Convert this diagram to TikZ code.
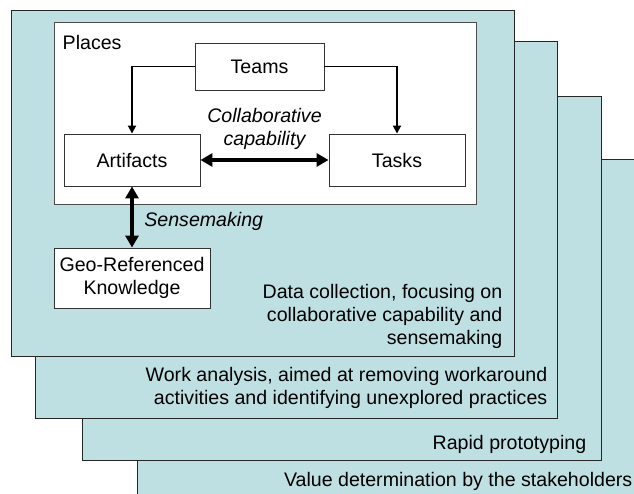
\documentclass[tikz,border=0pt]{standalone}
\usepackage{fontspec}
\setmainfont{Liberation Sans}
\usetikzlibrary{arrows.meta}
\definecolor{stageblue}{RGB}{190,224,227}
\newcommand{\figfont}{\fontsize{19.6}{22.8}\selectfont}

\begin{document}
\begin{tikzpicture}[x=1pt, y=-1pt,
    stage/.style={draw=black!85, fill=stageblue, line width=1pt},
    main box/.style={rectangle, draw=black!80, fill=white, line width=0.9pt, align=center, inner sep=0pt},
    stage text/.style={anchor=east, align=right, inner sep=0pt},
    flow/.style={-{Triangle[length=8pt,width=8pt]}, line width=1.8pt},
    link/.style={{Triangle[length=12pt,width=13pt]}-{Triangle[length=12pt,width=13pt]}, line width=4pt}]
  \tikzstyle{every node}=[font=\figfont]

  \useasboundingbox (0,0) rectangle (634,494);
  \clip (0,0) rectangle (634,494);

  % stages, back to front
  \draw[stage] (137,160) rectangle (660,520);
  \draw[stage] (82,97) rectangle (601,460);
  \draw[stage] (35,42) rectangle (557,418);
  \draw[stage] (11,11) rectangle (514,356);
  \draw[fill=white, draw=black!70, line width=0.9pt] (54,22) rectangle (476,204);

  \node[anchor=west, inner sep=0pt] (places) at (62.5,42) {Places};
  \node[main box, minimum width=129pt, minimum height=47pt] (teams) at (259.5,66.5) {Teams};
  \node[main box, minimum width=136pt, minimum height=52pt] (artifacts) at (132,160) {Artifacts};
  \node[main box, minimum width=136pt, minimum height=52pt] (tasks) at (397,160) {Tasks};
  \node[main box, minimum width=156pt, minimum height=60pt] (geo) at (132,278) {Geo-Referenced\\Knowledge};

  \draw[flow] (teams.west) -| (artifacts.north);
  \draw[flow] (teams.east) -| (tasks.north);
  \path (artifacts) edge[link] node[above=5pt, align=center, font=\figfont\itshape] {Collaborative\\capability} (tasks);
  \path (artifacts.south) edge[link] node[right=7pt, pos=0.58, font=\figfont\itshape] {Sensemaking} (geo.north);

  \node[stage text] (collect) at (502.5,316.5) {Data collection, focusing on\\collaborative capability and\\sensemaking};
  \node[stage text] (analysis) at (547.5,388) {Work analysis, aimed at removing workaround\\activities and identifying unexplored practices};
  \node[stage text] (proto) at (586.5,444.5) {Rapid prototyping};
  \node[stage text] (value) at (632.5,481) {Value determination by the stakeholders};
\end{tikzpicture}
\end{document}
